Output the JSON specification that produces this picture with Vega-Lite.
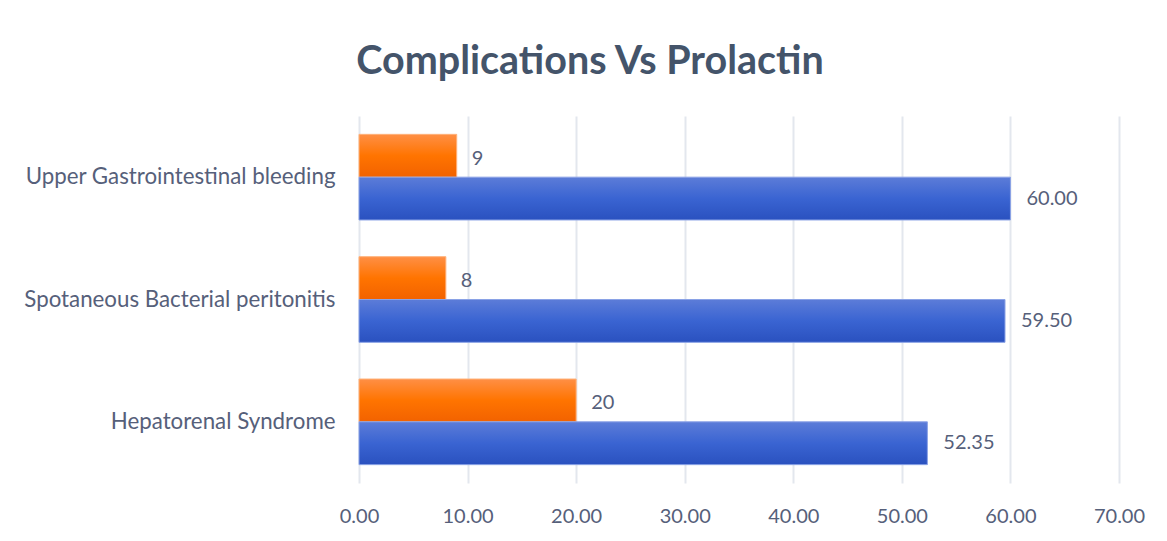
{
  "$schema": "https://vega.github.io/schema/vega-lite/v6.json",
  "autosize": {"type": "none"},
  "width": 760,
  "height": 367,
  "padding": {"left": 359, "top": 116, "right": 48, "bottom": 58},
  "background": "white",
  "title": {
    "text": "Complications Vs Prolactin",
    "font": "Lato",
    "fontSize": 39.5,
    "fontWeight": "bold",
    "color": "#44546a",
    "anchor": "middle",
    "frame": "group",
    "dx": -149,
    "offset": 34
  },
  "data": {
    "values": [
      {"complication": "Upper Gastrointestinal bleeding", "series": "Cases", "value": 9},
      {"complication": "Upper Gastrointestinal bleeding", "series": "Prolactin", "value": 60.00},
      {"complication": "Spotaneous Bacterial peritonitis", "series": "Cases", "value": 8},
      {"complication": "Spotaneous Bacterial peritonitis", "series": "Prolactin", "value": 59.50},
      {"complication": "Hepatorenal Syndrome", "series": "Cases", "value": 20},
      {"complication": "Hepatorenal Syndrome", "series": "Prolactin", "value": 52.35}
    ]
  },
  "encoding": {
    "y": {
      "field": "complication",
      "type": "nominal",
      "sort": ["Upper Gastrointestinal bleeding", "Spotaneous Bacterial peritonitis", "Hepatorenal Syndrome"],
      "scale": {"paddingInner": 0.3, "paddingOuter": 0.15},
      "axis": {
        "title": null,
        "domain": false,
        "ticks": false,
        "labelFont": "Lato",
        "labelFontSize": 22.3,
        "labelColor": "#56607a",
        "labelPadding": 24,
        "labelLimit": 400,
        "grid": false
      }
    },
    "yOffset": {
      "field": "series",
      "type": "nominal",
      "scale": {"domain": ["Cases", "Prolactin"], "paddingInner": 0, "paddingOuter": 0}
    },
    "x": {
      "field": "value",
      "type": "quantitative",
      "scale": {"domain": [0, 70], "nice": false},
      "axis": {
        "title": null,
        "values": [0, 10, 20, 30, 40, 50, 60, 70],
        "format": ".2f",
        "domain": false,
        "ticks": false,
        "labelFlush": false,
        "labelFont": "Lato",
        "labelFontSize": 20,
        "labelColor": "#56607a",
        "labelPadding": 23,
        "grid": true,
        "gridColor": "#e3e7ee",
        "gridWidth": 2
      }
    }
  },
  "layer": [
    {
      "transform": [{"filter": "datum.series === 'Cases'"}],
      "mark": {
        "type": "bar",
        "color": {
          "gradient": "linear", "x1": 0, "y1": 0, "x2": 0, "y2": 1,
          "stops": [
            {"offset": 0, "color": "#ff8f45"},
            {"offset": 0.5, "color": "#ff7400"},
            {"offset": 1, "color": "#f26200"}
          ]
        },
        "stroke": "#ffb27a",
        "strokeWidth": 1
      }
    },
    {
      "transform": [{"filter": "datum.series === 'Prolactin'"}],
      "mark": {
        "type": "bar",
        "color": {
          "gradient": "linear", "x1": 0, "y1": 0, "x2": 0, "y2": 1,
          "stops": [
            {"offset": 0, "color": "#5c7cd8"},
            {"offset": 0.5, "color": "#3a64d2"},
            {"offset": 1, "color": "#2a51bf"}
          ]
        },
        "stroke": "#8aa2e6",
        "strokeWidth": 1
      }
    },
    {
      "transform": [{"filter": "datum.series === 'Cases'"}],
      "mark": {"type": "text", "align": "left", "baseline": "middle", "dx": 15, "dy": 3, "font": "Lato", "fontSize": 20, "color": "#56607a"},
      "encoding": {"text": {"field": "value", "type": "quantitative", "format": "d"}}
    },
    {
      "transform": [{"filter": "datum.series === 'Prolactin'"}],
      "mark": {"type": "text", "align": "left", "baseline": "middle", "dx": 16, "dy": 0, "font": "Lato", "fontSize": 20, "color": "#56607a"},
      "encoding": {"text": {"field": "value", "type": "quantitative", "format": ".2f"}}
    }
  ],
  "config": {
    "view": {"stroke": null}
  }
}
